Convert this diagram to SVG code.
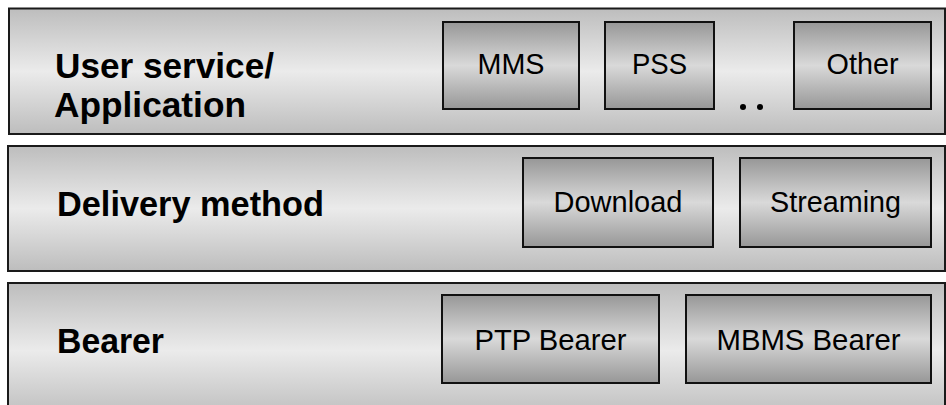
<svg xmlns="http://www.w3.org/2000/svg" width="946" height="405" viewBox="0 0 946 405">
  <defs>
    <linearGradient id="bandGrad" x1="0" y1="0" x2="0" y2="1">
      <stop offset="0" stop-color="#bdbdbd"/>
      <stop offset="0.5" stop-color="#ebebeb"/>
      <stop offset="1" stop-color="#bdbdbd"/>
    </linearGradient>
    <linearGradient id="boxGrad" x1="0" y1="0" x2="0" y2="1">
      <stop offset="0" stop-color="#979797"/>
      <stop offset="0.5" stop-color="#d9d9d9"/>
      <stop offset="1" stop-color="#979797"/>
    </linearGradient>
  </defs>
  <style>
    .band { fill: url(#bandGrad); stroke: #1a1a1a; stroke-width: 2; }
    .box { fill: url(#boxGrad); stroke: #111; stroke-width: 2; }
    .title { font-family: "Liberation Sans", Arial, sans-serif; font-weight: bold; font-size: 35px; fill: #000; }
    .label { font-family: "Liberation Sans", Arial, sans-serif; font-size: 29px; fill: #000; text-anchor: middle; }
    .dot { fill: #000; }
  </style>
  <rect width="946" height="405" fill="#ffffff"/>

  <g id="layer-user-service">
    <rect class="band" x="9" y="8.5" width="936" height="125.5"/>
    <text class="title" x="55" y="78" textLength="219" lengthAdjust="spacingAndGlyphs">User service/</text>
    <text class="title" x="54" y="117" textLength="192" lengthAdjust="spacingAndGlyphs">Application</text>
  </g>
  <g id="node-mms">
    <rect class="box" x="443" y="22" width="136" height="87"/>
    <text class="label" x="511" y="74" textLength="67" lengthAdjust="spacingAndGlyphs">MMS</text>
  </g>
  <g id="node-pss">
    <rect class="box" x="605" y="22" width="109" height="87"/>
    <text class="label" x="659.5" y="74" textLength="55" lengthAdjust="spacingAndGlyphs">PSS</text>
  </g>
  <g id="node-ellipsis">
    <circle class="dot" cx="743" cy="107" r="3"/>
    <circle class="dot" cx="760" cy="107" r="3"/>
  </g>
  <g id="node-other">
    <rect class="box" x="794" y="22" width="137" height="87"/>
    <text class="label" x="862.5" y="74" textLength="72" lengthAdjust="spacingAndGlyphs">Other</text>
  </g>

  <g id="layer-delivery">
    <rect class="band" x="8" y="146" width="937" height="125"/>
    <text class="title" x="57" y="216" textLength="267" lengthAdjust="spacingAndGlyphs">Delivery method</text>
  </g>
  <g id="node-download">
    <rect class="box" x="523" y="158" width="190" height="89"/>
    <text class="label" x="618" y="212" textLength="129" lengthAdjust="spacingAndGlyphs">Download</text>
  </g>
  <g id="node-streaming">
    <rect class="box" x="740" y="158" width="191" height="89"/>
    <text class="label" x="835.5" y="212" textLength="131" lengthAdjust="spacingAndGlyphs">Streaming</text>
  </g>

  <g id="layer-bearer">
    <rect class="band" x="8" y="283" width="937" height="135"/>
    <text class="title" x="57" y="353" textLength="107" lengthAdjust="spacingAndGlyphs">Bearer</text>
  </g>
  <g id="node-ptp-bearer">
    <rect class="box" x="442" y="295" width="217" height="88"/>
    <text class="label" x="550.5" y="350" textLength="152" lengthAdjust="spacingAndGlyphs">PTP Bearer</text>
  </g>
  <g id="node-mbms-bearer">
    <rect class="box" x="686" y="295" width="245" height="88"/>
    <text class="label" x="808.5" y="350" textLength="184" lengthAdjust="spacingAndGlyphs">MBMS Bearer</text>
  </g>
</svg>
